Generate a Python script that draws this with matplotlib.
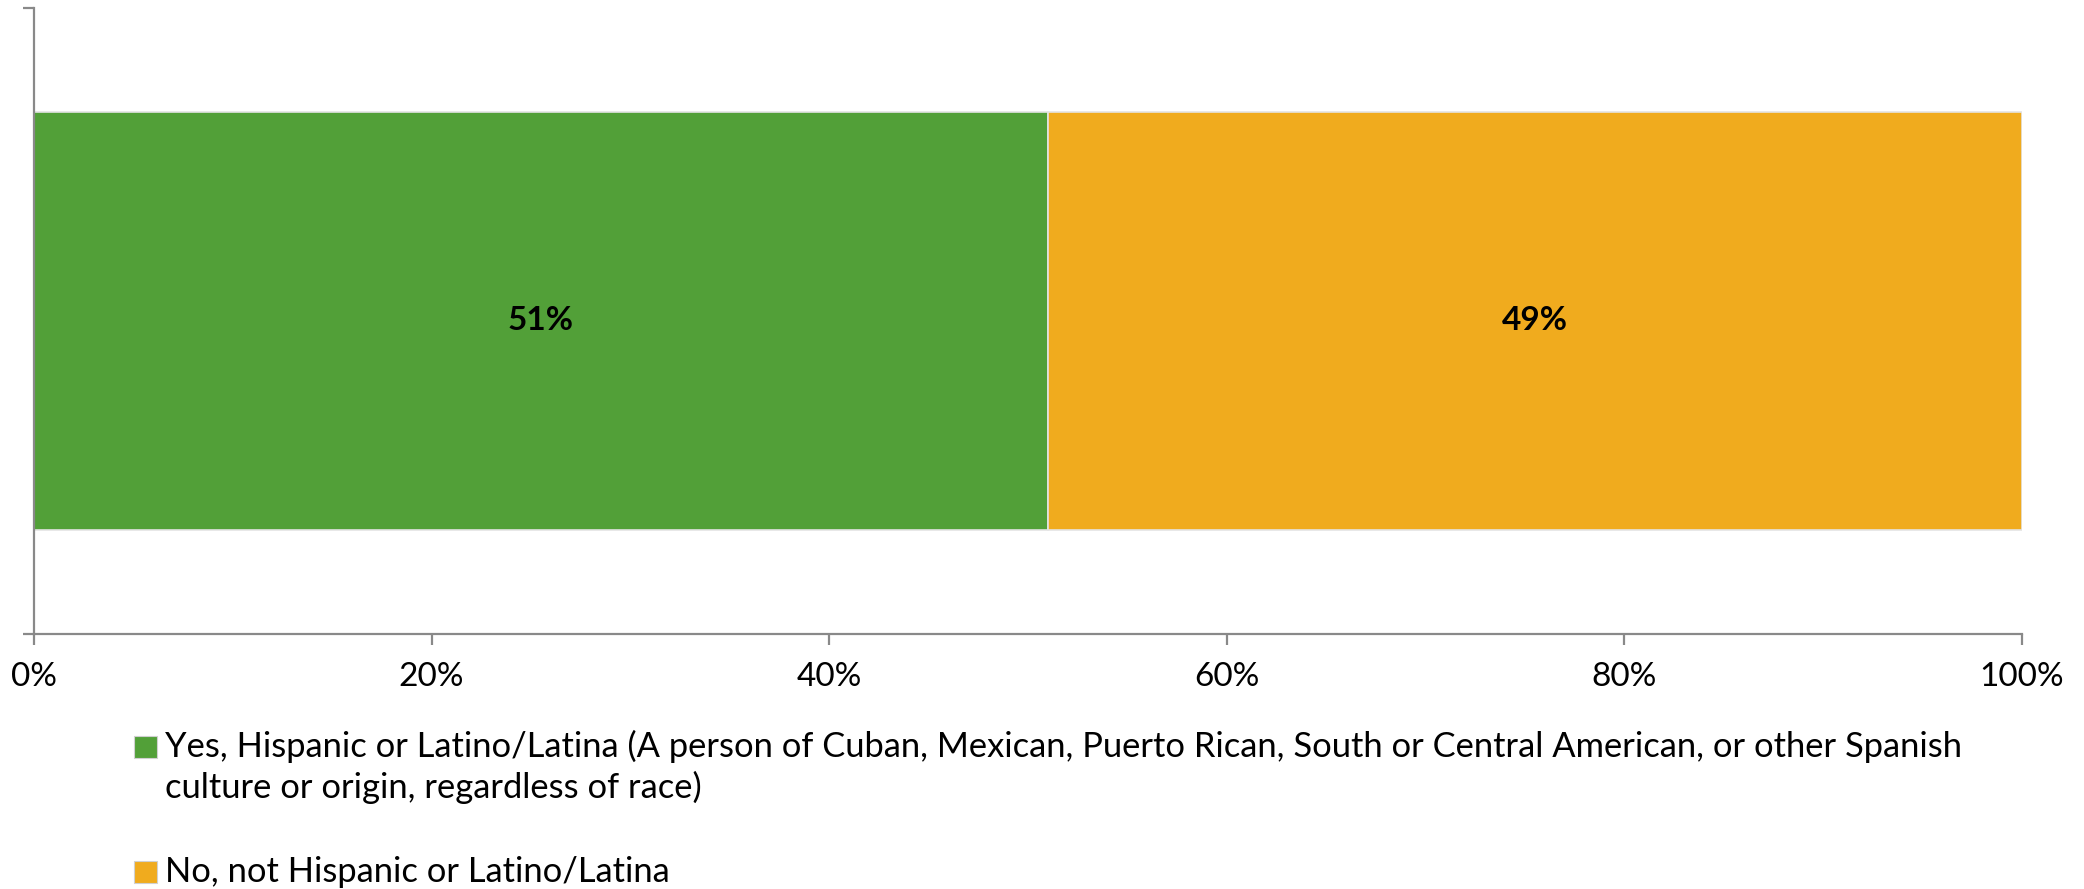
import matplotlib.pyplot as plt
from matplotlib.patches import Rectangle
from matplotlib.ticker import PercentFormatter

categories = ["Yes, Hispanic or Latino/Latina (A person of Cuban, Mexican, Puerto Rican, South or Central American, or other Spanish\nculture or origin, regardless of race)",
              "No, not Hispanic or Latino/Latina"]
values = [51, 49]
colors = ["#52A038", "#F0AB1E"]
xticks = [0, 20, 40, 60, 80, 100]

plt.rcParams['font.family'] = ['Lato', 'DejaVu Sans']

W, H = 2084, 889
fig = plt.figure(figsize=(W / 100, H / 100), dpi=100)
ax = fig.add_axes([34 / W, 1 - 634 / H, (2022 - 34) / W, (634 - 8) / H])

left = 0
for cat, val, col in zip(categories, values, colors):
    ax.barh(0, val, left=left, height=1.0, color=col, edgecolor="#E4E4E4",
            linewidth=1.2)
    ax.text(left + val / 2, 0, f"{val}%", ha="center", va="center",
            fontsize=24, fontweight="bold", color="black")
    left += val

ax.set_xlim(0, 100)
ax.set_ylim(-0.75, 0.75)
ax.set_xticks(xticks)
ax.xaxis.set_major_formatter(PercentFormatter(decimals=0))
ax.set_yticks([-0.75, 0.75])
ax.set_yticklabels([])
for s in ["top", "right"]:
    ax.spines[s].set_visible(False)
for s in ["left", "bottom"]:
    ax.spines[s].set_color("#898989")
    ax.spines[s].set_linewidth(1.6)
ax.tick_params(axis="both", direction="out", length=8, width=1.6, color="#898989")
ax.tick_params(axis="x", labelsize=24, pad=12)

# legend, drawn by hand so the swatch sits on the first line
entry_baselines = [757, 882]
line_step = 41
for cat, col, base in zip(categories, colors, entry_baselines):
    fig.patches.append(Rectangle((134 / W, 1 - (base + 1) / H), 23 / W, 22 / H,
                                 transform=fig.transFigure, facecolor=col,
                                 edgecolor="#D0D0D0", linewidth=0.8))
    for i, line in enumerate(cat.split("\n")):
        fig.text(165 / W, 1 - (base + i * line_step) / H, line,
                 fontsize=24.8, va="baseline", ha="left", color="black")

fig.savefig("out.png", dpi=100)
